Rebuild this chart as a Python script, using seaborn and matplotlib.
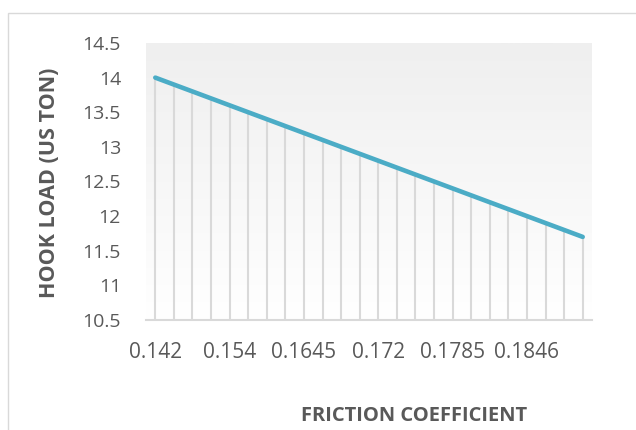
import numpy as np
import pandas as pd
import matplotlib
matplotlib.use("Agg")
import matplotlib.pyplot as plt
from matplotlib.patches import Rectangle
import seaborn as sns

# Friction coefficient categories (one per computed case)
friction = ["0.142", "0.145", "0.148", "0.151", "0.154", "0.1567", "0.1594", "0.162",
            "0.1645", "0.1664", "0.1683", "0.1702", "0.172", "0.1736", "0.1752", "0.1768",
            "0.1785", "0.18", "0.1815", "0.183", "0.1846", "0.186", "0.1875", "0.189"]
# Hook load in US tons for each case
hook_load = [14.0, 13.9, 13.8, 13.7, 13.6, 13.5, 13.4, 13.3,
             13.2, 13.1, 13.0, 12.9, 12.8, 12.7, 12.6, 12.5,
             12.4, 12.3, 12.2, 12.1, 12.0, 11.9, 11.8, 11.7]
y_ticks = [10.5, 11, 11.5, 12, 12.5, 13, 13.5, 14, 14.5]
x_tick_every = 4

df = pd.DataFrame({"friction": friction, "hook_load": hook_load})

sns.set_theme(style="white")
plt.rcParams["font.family"] = ["Open Sans", "DejaVu Sans"]

TEXT = "#595959"
GRID = "#d9d9d9"
LINE = "#4bacc6"

fig = plt.figure(figsize=(6.36, 4.30), dpi=100)
fig.patch.set_facecolor("white")

# outer chart frame
fig.patches.append(Rectangle((8 / 636, -0.5), 2.0, 0.5 + (1 - 13 / 430),
                             transform=fig.transFigure, fill=False,
                             edgecolor=GRID, linewidth=1.0, zorder=0))

ax = fig.add_axes([146 / 636, 1 - 320 / 430, (592 - 146) / 636, (320 - 43) / 430])

n = len(friction)
ax.set_xlim(-0.5, n - 0.5)
ax.set_ylim(y_ticks[0], y_ticks[-1])

# soft vertical gradient in the plot area
grad = np.linspace(0, 1, 256).reshape(-1, 1)
cmap = matplotlib.colors.LinearSegmentedColormap.from_list("bg", ["#ffffff", "#efefef"])
ax.imshow(grad, extent=(-0.5, n - 0.5, y_ticks[-1], y_ticks[0]), aspect="auto",
          cmap=cmap, zorder=0, origin="upper")

sns.lineplot(data=df, x="friction", y="hook_load", ax=ax, sort=False,
             color=LINE, linewidth=3.3, zorder=3, solid_capstyle="round")

# drop lines from each point to the category axis
ax.vlines(np.arange(n), y_ticks[0], df["hook_load"], colors=GRID, linewidth=1.5, zorder=2)

for side in ["left", "right", "top"]:
    ax.spines[side].set_visible(False)
ax.spines["bottom"].set_color(GRID)
ax.spines["bottom"].set_linewidth(1.5)

ax.set_yticks(y_ticks)
ax.set_yticklabels([f"{t:g}" for t in y_ticks])
ax.set_xticks(np.arange(0, n, x_tick_every))
ax.set_xticklabels([friction[i] for i in range(0, n, x_tick_every)])
ax.tick_params(axis="y", length=0, labelsize=14, colors=TEXT, pad=18)
ax.tick_params(axis="x", length=0, labelsize=15, colors=TEXT, pad=16)

ax.set_xlabel("")
ax.set_ylabel("")
fig.text(414 / 636, 1 - 416 / 430, "FRICTION COEFFICIENT", ha="center", va="center",
         fontsize=14.5, fontweight="bold", color=TEXT)
fig.text(50 / 636, 1 - 183 / 430, "HOOK LOAD (US TON)", ha="center", va="center",
         rotation=90, fontsize=15.5, fontweight="bold", color=TEXT)

fig.savefig("out.png", dpi=100, facecolor="white")
